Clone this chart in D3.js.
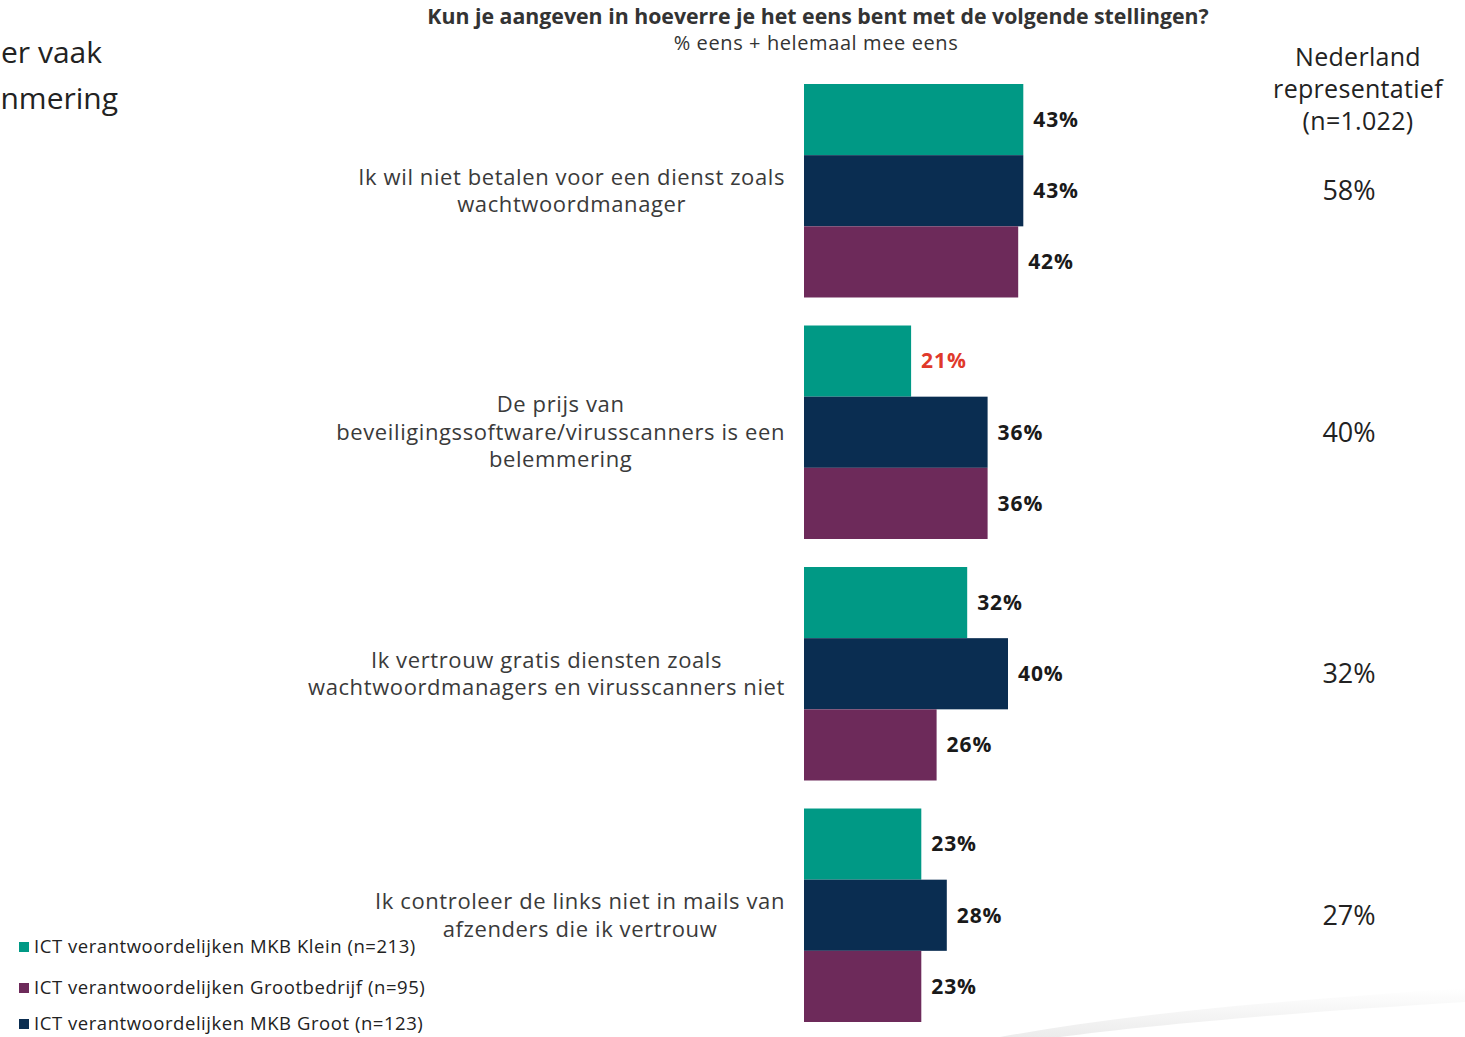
<!DOCTYPE html>
<html>
<head>
<meta charset="utf-8">
<script src="https://cdn.jsdelivr.net/npm/d3@7"></script>
<style>
  html, body { margin: 0; padding: 0; background: #fff; }
  svg { display: block; }
  text { font-family: "Open Sans", "Noto Sans", sans-serif; }
</style>
</head>
<body>
<svg id="chart" width="1465" height="1037"></svg>
<script>
// Statements (each entry is one wrapped label)
const statements = [
  ["Ik wil niet betalen voor een dienst zoals", "wachtwoordmanager"],
  ["De prijs van", "beveiligingssoftware/virusscanners is een", "belemmering"],
  ["Ik vertrouw gratis diensten zoals", "wachtwoordmanagers en virusscanners niet"],
  ["Ik controleer de links niet in mails van", "afzenders die ik vertrouw"]
];

// Series (order of bars inside each group)
const seriesKeys = ["klein", "groot", "grootbedrijf"];
const seriesNames = {
  klein: "ICT verantwoordelijken MKB Klein (n=213)",
  groot: "ICT verantwoordelijken MKB Groot (n=123)",
  grootbedrijf: "ICT verantwoordelijken Grootbedrijf (n=95)"
};
const seriesColors = { klein: "#009985", groot: "#0a2d51", grootbedrijf: "#6d2a5a" };

// % eens + helemaal mee eens
const mkbKlein      = [43, 21, 32, 23];
const mkbGroot      = [43, 36, 40, 28];
const grootbedrijf  = [42, 36, 26, 23];
const nederland     = [58, 40, 32, 27];

// Labels highlighted as a notable difference
const highlighted = [{ series: "klein", index: 1 }];

// Legend order
const legendOrder = ["klein", "grootbedrijf", "groot"];

const valuesBySeries = { klein: mkbKlein, groot: mkbGroot, grootbedrijf: grootbedrijf };

const svg = d3.select("#chart");

// Background swoosh in the lower-right corner
const defs = svg.append("defs");
const grad = defs.append("linearGradient").attr("id", "swoosh")
  .attr("x1", 0).attr("y1", 0).attr("x2", 0).attr("y2", 1);
grad.append("stop").attr("offset", 0).attr("stop-color", "#ffffff");
grad.append("stop").attr("offset", 1).attr("stop-color", "#ececec");
svg.append("path")
  .attr("d", "M1000,1037 C1150,1010 1300,1000 1465,988 L1465,1002 C1300,1012 1150,1025 1060,1037 Z")
  .attr("fill", "url(#swoosh)");

// Scales
const x0 = 804;
const x = d3.scaleLinear().domain([0, 100]).range([x0, x0 + 510]);
const yGroup = d3.scaleBand().domain(d3.range(statements.length))
  .range([84, 1022]).paddingInner(0.116).paddingOuter(0);
const ySub = d3.scaleBand().domain(seriesKeys).range([0, yGroup.bandwidth()]);

// Title
svg.append("text").attr("x", 818).attr("y", 24).attr("text-anchor", "middle")
  .attr("font-size", 21.3).attr("font-weight", 700).attr("fill", "#333")
  .text("Kun je aangeven in hoeverre je het eens bent met de volgende stellingen?");
svg.append("text").attr("x", 816).attr("y", 50).attr("text-anchor", "middle")
  .attr("font-size", 20).attr("fill", "#333").attr("letter-spacing", 0.6)
  .text("% eens + helemaal mee eens");

// Cut-off heading on the left
svg.append("text").attr("x", 102).attr("y", 63).attr("text-anchor", "end")
  .attr("font-size", 30).attr("fill", "#222").text("er vaak");
svg.append("text").attr("x", 118).attr("y", 109).attr("text-anchor", "end")
  .attr("font-size", 30).attr("fill", "#222").text("nmering");

// Bars
const groups = svg.append("g").selectAll("g").data(statements).join("g")
  .attr("transform", (d, i) => `translate(0,${yGroup(i)})`);

groups.each(function (lines, i) {
  const g = d3.select(this);
  seriesKeys.forEach(k => {
    const v = valuesBySeries[k][i];
    g.append("rect")
      .attr("x", x(0)).attr("y", ySub(k))
      .attr("width", x(v) - x(0)).attr("height", ySub.bandwidth())
      .attr("fill", seriesColors[k]);
    const hl = highlighted.some(h => h.series === k && h.index === i);
    g.append("text")
      .attr("x", x(v) + 10).attr("y", ySub(k) + ySub.bandwidth() / 2)
      .attr("dy", "0.35em")
      .attr("font-size", 21).attr("font-weight", 700).attr("letter-spacing", 0.9)
      .attr("fill", hl ? "#e0392b" : "#1a1a1a")
      .text(v + "%");
  });

  // Category label: block centred, its widest line ending at the right edge
  const cy = yGroup.bandwidth() / 2;
  const lh = 27.5;
  const label = g.append("text").attr("font-size", 22).attr("fill", "#3a3a3a")
    .attr("text-anchor", "middle").attr("letter-spacing", 0.6);
  const spans = lines.map((t, j) => label.append("tspan")
    .attr("y", cy + (j - (lines.length - 1) / 2) * lh).attr("dy", "0.35em").text(t));
  const maxW = d3.max(spans, s => s.node().getComputedTextLength());
  spans.forEach(s => s.attr("x", 785 - maxW / 2));

  // Nederland representatief value
  g.append("text").attr("x", 1349).attr("y", cy).attr("dy", "0.35em")
    .attr("text-anchor", "middle").attr("font-size", 27).attr("fill", "#222")
    .text(nederland[i] + "%");
});

// Right column header
["Nederland", "representatief", "(n=1.022)"].forEach((t, j) => {
  svg.append("text").attr("x", 1358).attr("y", 66 + j * 32)
    .attr("text-anchor", "middle").attr("font-size", 25).attr("letter-spacing", 0.3)
    .attr("fill", "#222").text(t);
});

// Legend
const legend = svg.append("g").selectAll("g").data(legendOrder).join("g")
  .attr("transform", (d, i) => `translate(19,${[947, 988, 1024][i]})`);
legend.append("rect").attr("x", 0).attr("y", -5).attr("width", 10).attr("height", 10)
  .attr("fill", d => seriesColors[d]);
legend.append("text").attr("x", 15).attr("dy", "0.35em").attr("font-size", 18.5)
  .attr("letter-spacing", 0.55).attr("fill", "#222").text(d => seriesNames[d]);
</script>
</body>
</html>
